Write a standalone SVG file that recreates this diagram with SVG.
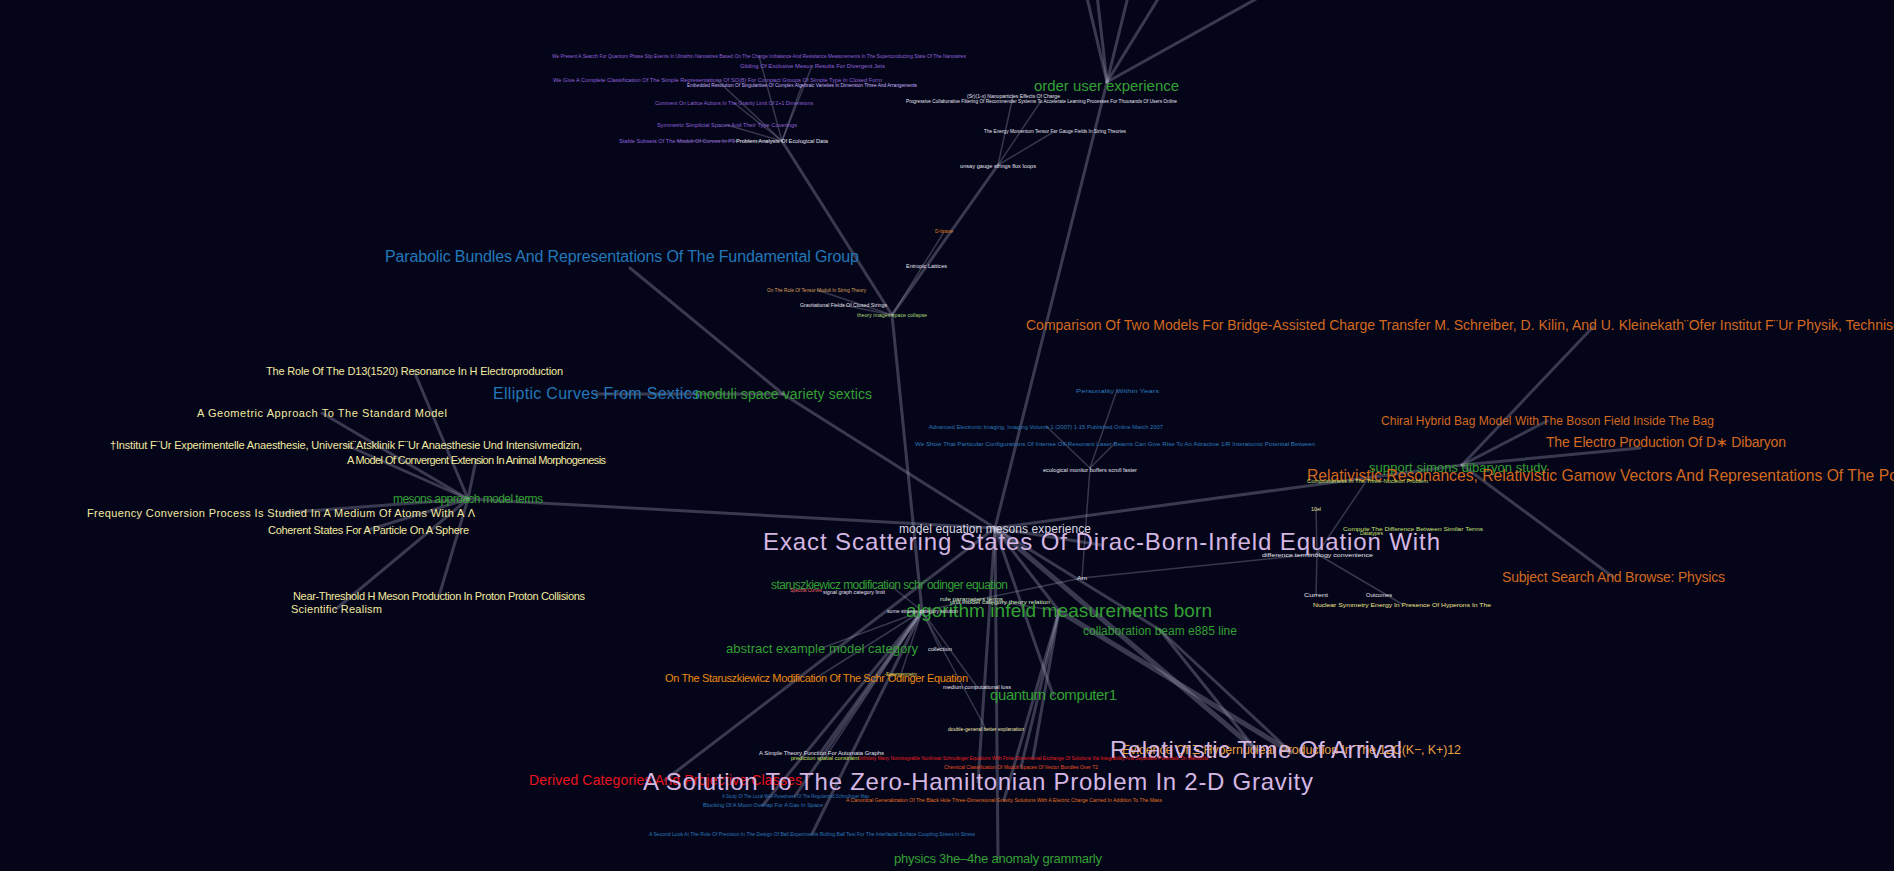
<svg xmlns="http://www.w3.org/2000/svg" width="1894" height="871" viewBox="0 0 1894 871">
<style>
text{font-family:"Liberation Sans",Arial,sans-serif}
.e1{stroke:#a8a8c0;stroke-opacity:.32;stroke-width:5;stroke-linecap:round;fill:none}
.e2{stroke:#a8a8c0;stroke-opacity:.32;stroke-width:3;stroke-linecap:round;fill:none}
.e3{stroke:#a8a8c0;stroke-opacity:.3;stroke-width:1.5;stroke-linecap:round;fill:none}
.lav{fill:#d4b6e2;font-size:24px}
.grn{fill:#33a033}
.blu{fill:#2278b8}
.org{fill:#d2691e}
.yel{fill:#f2eaa0;font-size:11px}
.pur{fill:#8f62d8;font-size:6px}
.wht{fill:#e4e4ee;font-size:6px}
.tiny{font-size:6px}
</style>
<rect width="1894" height="871" fill="#05051a"/>
<g id="connectors">
<line class="e2" x1="1107" y1="82" x2="1078" y2="-40"/>
<line class="e2" x1="1107" y1="82" x2="1093" y2="-40"/>
<line class="e2" x1="1107" y1="82" x2="1137" y2="-40"/>
<line class="e2" x1="1107" y1="82" x2="1182" y2="-40"/>
<line class="e2" x1="1107" y1="82" x2="1326" y2="-40"/>
<line class="e2" x1="1107" y1="82" x2="995" y2="528"/>
<line class="e2" x1="892" y1="315" x2="782" y2="141"/>
<line class="e2" x1="892" y1="315" x2="998" y2="165"/>
<line class="e3" x1="892" y1="315" x2="944" y2="232"/>
<line class="e3" x1="892" y1="315" x2="817" y2="290"/>
<line class="e3" x1="892" y1="315" x2="843" y2="305"/>
<line class="e2" x1="892" y1="315" x2="922" y2="611"/>
<line class="e3" x1="782" y1="141" x2="759" y2="56"/>
<line class="e3" x1="782" y1="141" x2="812" y2="66"/>
<line class="e3" x1="782" y1="141" x2="717" y2="80"/>
<line class="e3" x1="782" y1="141" x2="802" y2="85"/>
<line class="e3" x1="782" y1="141" x2="734" y2="103"/>
<line class="e3" x1="782" y1="141" x2="727" y2="125"/>
<line class="e3" x1="782" y1="141" x2="677" y2="141"/>
<line class="e3" x1="998" y1="165" x2="1013" y2="96"/>
<line class="e3" x1="998" y1="165" x2="1041" y2="101"/>
<line class="e3" x1="998" y1="165" x2="1055" y2="131"/>
<line class="e2" x1="630" y1="268" x2="783" y2="394"/>
<line class="e2" x1="596" y1="394" x2="783" y2="394"/>
<line class="e2" x1="783" y1="394" x2="995" y2="528"/>
<line class="e2" x1="468" y1="499" x2="414" y2="371"/>
<line class="e2" x1="468" y1="499" x2="322" y2="413"/>
<line class="e2" x1="468" y1="499" x2="346" y2="445"/>
<line class="e2" x1="468" y1="499" x2="476" y2="460"/>
<line class="e2" x1="468" y1="499" x2="281" y2="513"/>
<line class="e2" x1="468" y1="499" x2="368" y2="530"/>
<line class="e2" x1="468" y1="499" x2="439" y2="596"/>
<line class="e2" x1="468" y1="499" x2="336" y2="609"/>
<line class="e2" x1="468" y1="499" x2="995" y2="528"/>
<line class="e3" x1="1090" y1="468" x2="1117" y2="390"/>
<line class="e3" x1="1090" y1="468" x2="1046" y2="426"/>
<line class="e3" x1="1090" y1="468" x2="1115" y2="443"/>
<line class="e3" x1="1090" y1="468" x2="1082" y2="578"/>
<line class="e3" x1="1082" y1="578" x2="1317" y2="554"/>
<line class="e3" x1="1082" y1="578" x2="922" y2="611"/>
<line class="e3" x1="1317" y1="554" x2="1316" y2="509"/>
<line class="e3" x1="1317" y1="554" x2="1367" y2="480"/>
<line class="e3" x1="1317" y1="554" x2="1316" y2="595"/>
<line class="e3" x1="1317" y1="554" x2="1402" y2="604"/>
<line class="e2" x1="1462" y1="465" x2="1593" y2="327"/>
<line class="e2" x1="1462" y1="465" x2="1547" y2="421"/>
<line class="e2" x1="1462" y1="465" x2="1640" y2="448"/>
<line class="e2" x1="1462" y1="465" x2="1613" y2="577"/>
<line class="e2" x1="1462" y1="465" x2="995" y2="528"/>
<line class="e2" x1="995" y1="528" x2="665" y2="780"/>
<line class="e2" x1="995" y1="528" x2="998" y2="858"/>
<line class="e2" x1="995" y1="528" x2="978" y2="782"/>
<line class="e1" x1="995" y1="528" x2="1256" y2="750"/>
<line class="e2" x1="995" y1="528" x2="1160" y2="630"/>
<line class="e2" x1="995" y1="528" x2="1053" y2="695"/>
<line class="e2" x1="995" y1="528" x2="1059" y2="611"/>
<line class="e2" x1="995" y1="528" x2="1101" y2="545"/>
<line class="e2" x1="1160" y1="630" x2="1256" y2="750"/>
<line class="e2" x1="1160" y1="630" x2="1291" y2="752"/>
<line class="e3" x1="922" y1="611" x2="890" y2="585"/>
<line class="e3" x1="922" y1="611" x2="822" y2="648"/>
<line class="e3" x1="922" y1="611" x2="816" y2="678"/>
<line class="e3" x1="922" y1="611" x2="940" y2="649"/>
<line class="e3" x1="922" y1="611" x2="901" y2="674"/>
<line class="e3" x1="922" y1="611" x2="977" y2="687"/>
<line class="e2" x1="922" y1="611" x2="821" y2="752"/>
<line class="e2" x1="922" y1="611" x2="795" y2="796"/>
<line class="e2" x1="922" y1="611" x2="763" y2="805"/>
<line class="e2" x1="922" y1="611" x2="812" y2="834"/>
<line class="e3" x1="922" y1="611" x2="986" y2="729"/>
<line class="e3" x1="922" y1="611" x2="825" y2="758"/>
<line class="e2" x1="1059" y1="611" x2="1033" y2="758"/>
<line class="e2" x1="1059" y1="611" x2="1021" y2="767"/>
<line class="e2" x1="1059" y1="611" x2="1004" y2="800"/>
<line class="e1" x1="1059" y1="611" x2="1291" y2="752"/>
<line class="e3" x1="1059" y1="611" x2="1000" y2="602"/>
</g>
<g id="n-purple-1"><text class="pur" x="552" y="58" textLength="414" lengthAdjust="spacingAndGlyphs">We Present A Search For Quantum Phase Slip Events In Ultrathin Nanowires Based On The Charge Imbalance And Resistance Measurements In The Superconducting State Of The Nanowires</text></g>
<g id="n-purple-2"><text class="pur" x="740" y="68" textLength="145" lengthAdjust="spacingAndGlyphs">Gliding Of Exclusive Meson Results For Divergent Jets</text></g>
<g id="n-purple-3"><text class="pur" x="553" y="82" textLength="329" lengthAdjust="spacingAndGlyphs">We Give A Complete Classification Of The Simple Representations Of SO(8) For Compact Groups Of Simple Type In Closed Form</text></g>
<g id="n-purple-4"><text class="tiny" fill="#c9b6ff" x="687" y="87" textLength="230" lengthAdjust="spacingAndGlyphs">Embedded Resolution Of Singularities Of Complex Algebraic Varieties In Dimension Three And Arrangements</text></g>
<g id="n-purple-5"><text class="pur" x="655" y="105" textLength="158" lengthAdjust="spacingAndGlyphs">Comment On Lattice Actions In The Gravity Limit Of 2+1 Dimensions</text></g>
<g id="n-purple-6"><text class="pur" x="657" y="127" textLength="140" lengthAdjust="spacingAndGlyphs">Symmetric Simplicial Spaces And Their Type Coverings</text></g>
<g id="n-purple-7"><text class="pur" x="619" y="143" textLength="116" lengthAdjust="spacingAndGlyphs">Stable Subsets Of The Moduli Of Curves In P3</text></g>
<g id="n-purple-hub"><text class="wht" x="736" y="143" textLength="92" lengthAdjust="spacingAndGlyphs">Problem Analysis Of Ecological Data</text></g>
<g id="n-tr-1"><text class="wht" x="967" y="98" textLength="93" lengthAdjust="spacingAndGlyphs">(Sr)(1-x) Nanoparticles Effects Of Charge</text></g>
<g id="n-tr-2"><text class="wht" x="906" y="103" textLength="271" lengthAdjust="spacingAndGlyphs">Progressive Collaborative Filtering Of Recommender Systems To Accelerate Learning Processes For Thousands Of Users Online</text></g>
<g id="n-tr-3"><text class="wht" x="984" y="133" textLength="142" lengthAdjust="spacingAndGlyphs">The Energy Momentum Tensor For Gauge Fields In String Theories</text></g>
<g id="n-tr-hub"><text class="wht" x="960" y="168" textLength="76" lengthAdjust="spacingAndGlyphs">unsay gauge strings flux loops</text></g>
<g id="n-order"><text class="grn" font-size="15" x="1034" y="91" textLength="145">order user experience</text></g>
<g id="n-th-o1"><text class="tiny" fill="#e07b1a" x="935" y="233" textLength="18" lengthAdjust="spacingAndGlyphs">D-brane</text></g>
<g id="n-th-w1"><text class="wht" x="906" y="268" textLength="41" lengthAdjust="spacingAndGlyphs">Entropic Lattices</text></g>
<g id="n-th-o2"><text class="tiny" fill="#d9a05b" x="767" y="292" textLength="99" lengthAdjust="spacingAndGlyphs">On The Role Of Tensor Moduli In String Theory</text></g>
<g id="n-th-w2"><text class="wht" x="800" y="307" textLength="87" lengthAdjust="spacingAndGlyphs">Gravitational Fields Of Closed Strings</text></g>
<g id="n-theory"><text class="tiny" fill="#a8d878" x="857" y="317" textLength="70" lengthAdjust="spacingAndGlyphs">theory images space collapse</text></g>
<g id="n-parabolic"><text class="blu" font-size="16" x="385" y="262" textLength="474">Parabolic Bundles And Representations Of The Fundamental Group</text></g>
<g id="n-elliptic"><text class="blu" font-size="16" x="493" y="399" textLength="207">Elliptic Curves From Sextics</text></g>
<g id="n-moduli"><text class="grn" font-size="14" x="695" y="399" textLength="177">moduli space variety sextics</text></g>
<g id="n-role"><text class="yel" x="266" y="375" textLength="297">The Role Of The D13(1520) Resonance In H Electroproduction</text></g>
<g id="n-geometric"><text class="yel" font-size="12" x="197" y="417" textLength="250">A Geometric Approach To The Standard Model</text></g>
<g id="n-institut"><text class="yel" x="110" y="449" textLength="472">†Institut F¨Ur Experimentelle Anaesthesie, Universit¨Atsklinik F¨Ur Anaesthesie Und Intensivmedizin,</text></g>
<g id="n-convergent"><text class="yel" x="347" y="464" textLength="259">A Model Of Convergent Extension In Animal Morphogenesis</text></g>
<g id="n-mesons"><text class="grn" font-size="12" x="393" y="503" textLength="150">mesons approach model terms</text></g>
<g id="n-frequency"><text class="yel" font-size="12" x="87" y="517" textLength="388">Frequency Conversion Process Is Studied In A Medium Of Atoms With A Λ</text></g>
<g id="n-coherent"><text class="yel" x="268" y="534" textLength="201">Coherent States For A Particle On A Sphere</text></g>
<g id="n-near"><text class="yel" x="293" y="600" textLength="292">Near-Threshold H Meson Production In Proton  Proton Collisions</text></g>
<g id="n-realism"><text class="yel" x="291" y="613" textLength="91">Scientific Realism</text></g>
<g id="n-personality"><text class="tiny" fill="#2a78b8" x="1076" y="393" textLength="83" lengthAdjust="spacingAndGlyphs">Personality Within Years</text></g>
<g id="n-advanced"><text class="tiny" fill="#2a78b8" x="929" y="429" textLength="234" lengthAdjust="spacingAndGlyphs">Advanced Electronic Imaging, Imaging Volume 1 (2007) 1-15 Published Online March 2007</text></g>
<g id="n-weshow"><text class="tiny" fill="#2a78b8" x="915" y="446" textLength="400" lengthAdjust="spacingAndGlyphs">We Show That Particular Configurations Of Intense Off-Resonant Laser Beams Can Give Rise To An Attractive 1/R Interatomic Potential Between</text></g>
<g id="n-ecological"><text class="wht" x="1043" y="472" textLength="94" lengthAdjust="spacingAndGlyphs">ecological monitor buffers scroll faster</text></g>
<g id="n-main"><text fill="#d8d8e0" font-size="12" x="899" y="533" textLength="192">model equation mesons experience</text></g>
<g id="n-exact"><text class="lav" x="763" y="550" textLength="677">Exact Scattering States Of Dirac-Born-Infeld Equation With</text></g>
<g id="n-comparison"><text class="org" font-size="14" x="1026" y="330">Comparison Of Two Models For Bridge-Assisted Charge Transfer M. Schreiber, D. Kilin, And U. Kleinekath¨Ofer Institut F¨Ur Physik, Technische Universit¨At Chemnitz</text></g>
<g id="n-chiral"><text class="org" font-size="12" x="1381" y="425" textLength="333">Chiral Hybrid Bag Model With The Boson Field Inside The Bag</text></g>
<g id="n-electro"><text class="org" font-size="14" x="1546" y="447" textLength="240">The Electro Production Of D∗ Dibaryon</text></g>
<g id="n-simons"><text class="grn" font-size="13" x="1369" y="472" textLength="178">support simons dibaryon study</text></g>
<g id="n-relres"><text class="org" font-size="15.7" x="1307" y="481">Relativistic Resonances, Relativistic Gamow Vectors And Representations Of The Poincaré Semigroup</text></g>
<g id="n-composite"><text class="tiny" fill="#c6e070" x="1307" y="483" textLength="121" lengthAdjust="spacingAndGlyphs">Compositeness In The Three-Nucleon Problem</text></g>
<g id="n-10el"><text class="tiny" fill="#e8e0a0" x="1311" y="511" textLength="10" lengthAdjust="spacingAndGlyphs">10el</text></g>
<g id="n-compute"><text class="tiny" fill="#c6e070" x="1343" y="531" textLength="140" lengthAdjust="spacingAndGlyphs">Compute The Difference Between Similar Terms</text></g>
<g id="n-datatypes"><text class="tiny" fill="#c6e070" x="1360" y="535" textLength="23" lengthAdjust="spacingAndGlyphs">Datatypes</text></g>
<g id="n-difference"><text class="wht" x="1262" y="557" textLength="111" lengthAdjust="spacingAndGlyphs">difference terminology convenience</text></g>
<g id="n-current"><text class="wht" x="1304" y="597" textLength="24" lengthAdjust="spacingAndGlyphs">Current</text></g>
<g id="n-outcomes"><text class="wht" x="1366" y="597" textLength="26" lengthAdjust="spacingAndGlyphs">Outcomes</text></g>
<g id="n-nuclear"><text class="tiny" fill="#f0e68c" x="1313" y="607" textLength="178" lengthAdjust="spacingAndGlyphs">Nuclear Symmetry Energy In Presence Of Hyperons In The</text></g>
<g id="n-subject"><text class="org" font-size="14" x="1502" y="582" textLength="223">Subject Search And Browse:  Physics</text></g>
<g id="n-am"><text class="wht" x="1077" y="580" textLength="10" lengthAdjust="spacingAndGlyphs">Am</text></g>
<g id="n-starmod"><text class="grn" font-size="12" x="771" y="589" textLength="237">staruszkiewicz modification schr¨odinger equation</text></g>
<g id="n-r1"><text class="tiny" fill="#e86a6a" x="790" y="592" textLength="32" lengthAdjust="spacingAndGlyphs">Spectral Curves</text></g>
<g id="n-w2"><text class="wht" x="823" y="594" textLength="62" lengthAdjust="spacingAndGlyphs">signal graph category limit</text></g>
<g id="n-w3"><text class="tiny" fill="#d8f0c8" x="940" y="601" textLength="63" lengthAdjust="spacingAndGlyphs">rule parameters terms</text></g>
<g id="n-w4"><text class="tiny" fill="#d8f0c8" x="950" y="604" textLength="100" lengthAdjust="spacingAndGlyphs">unit model category theory relation</text></g>
<g id="n-algorithm"><text class="grn" font-size="19" x="906" y="617" textLength="306">algorithm infeld measurements born</text></g>
<g id="n-some"><text class="wht" x="887" y="613" textLength="71" lengthAdjust="spacingAndGlyphs">some strange category solution</text></g>
<g id="n-abstract"><text class="grn" font-size="13" x="726" y="653" textLength="192">abstract example model category</text></g>
<g id="n-w5"><text class="wht" x="928" y="651" textLength="24" lengthAdjust="spacingAndGlyphs">collection</text></g>
<g id="n-collab"><text class="grn" font-size="12" x="1083" y="635" textLength="154">collaboration beam e885 line</text></g>
<g id="n-onthe"><text fill="#ea8a12" font-size="11" x="665" y="682" textLength="303">On The Staruszkiewicz Modification Of The Schr¨Odinger Equation</text></g>
<g id="n-y1"><text class="tiny" fill="#f0e060" x="886" y="676" textLength="31" lengthAdjust="spacingAndGlyphs">Supersymmetry</text></g>
<g id="n-w6"><text class="wht" x="943" y="689" textLength="68" lengthAdjust="spacingAndGlyphs">medium computational loss</text></g>
<g id="n-quantum"><text class="grn" font-size="15" x="990" y="700" textLength="127">quantum computer1</text></g>
<g id="n-y2"><text class="tiny" fill="#f0eab0" x="948" y="731" textLength="76" lengthAdjust="spacingAndGlyphs">double-general better explanation</text></g>
<g id="n-evidence"><text fill="#e8a040" font-size="12.5" x="1122" y="754" textLength="339">Evidence Of Ξ Hypernuclear Production In The 12C(K−, K+)12</text></g>
<g id="n-reltime"><text class="lav" x="1110" y="758" textLength="292">Relativistic Time Of Arrival</text></g>
<g id="n-silicone"><text class="wht" x="759" y="755" textLength="125" lengthAdjust="spacingAndGlyphs">A Simple Theory Function For Automata Graphs</text></g>
<g id="n-yg"><text class="tiny" fill="#c8e060" x="791" y="760" textLength="68" lengthAdjust="spacingAndGlyphs">prediction spatial constraint</text></g>
<g id="n-redlong"><text class="tiny" fill="#e8201c" x="859" y="760" textLength="349" lengthAdjust="spacingAndGlyphs">Infinitely Many Nonintegrable Nonlinear Schrodinger Equations With Finite Dimensional Exchange Of Solutions Via Integrability And Separable Potentials On Manifolds</text></g>
<g id="n-orbifold"><text class="tiny" fill="#e8501a" x="944" y="769" textLength="154" lengthAdjust="spacingAndGlyphs">Chemical Classification Of Moduli Spaces Of Vector Bundles Over T2</text></g>
<g id="n-derived"><text fill="#e8141e" font-size="14" x="529" y="785" textLength="273">Derived Categories And Projective Classes</text></g>
<g id="n-solution"><text class="lav" x="643" y="790" textLength="670">A Solution To The Zero-Hamiltonian Problem In 2-D Gravity</text></g>
<g id="n-b1"><text class="tiny" fill="#2a78b8" x="722" y="798" textLength="147" lengthAdjust="spacingAndGlyphs">A Study Of The Local Well-Posedness Of The Regularized Schrodinger Map</text></g>
<g id="n-gen"><text class="tiny" fill="#e07020" x="846" y="802" textLength="316" lengthAdjust="spacingAndGlyphs">A Canonical Generalization Of The Black Hole Three-Dimensional Gravity Solutions With A Electric Charge Carried In Addition To The Mass</text></g>
<g id="n-blocking"><text class="tiny" fill="#2a78b8" x="703" y="807" textLength="120" lengthAdjust="spacingAndGlyphs">Blocking Of A Moon Overlap For A Gas In Space</text></g>
<g id="n-second"><text class="tiny" fill="#2a78b8" x="649" y="836" textLength="326" lengthAdjust="spacingAndGlyphs">A Second Look At The Role Of Precision In The Design Of Ball Experiments Rolling Ball Test For The Interfacial Surface Coupling Stress In Stress</text></g>
<g id="n-physics"><text class="grn" font-size="13" x="894" y="863" textLength="208">physics 3he–4he anomaly grammarly</text></g>
</svg>
